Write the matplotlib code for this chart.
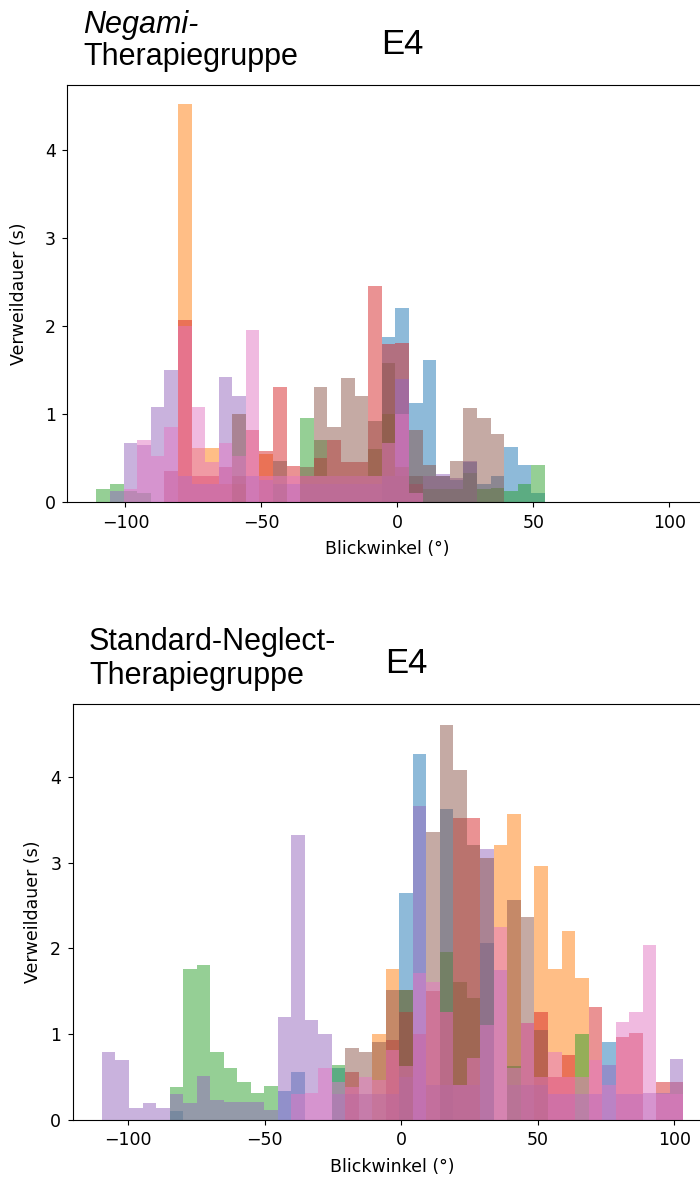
import numpy as np
import matplotlib
matplotlib.use("Agg")
import matplotlib.pyplot as plt

# bin edges (degrees) of the two panels
edges_top = np.linspace(-110.7, 54.3, 34)
edges_bot = np.linspace(-109.6, 103.2, 44)

# dwell time per angle bin (s), one list per trial, top panel (Negami)
top_blue = [0, 0, 0, 0, 0, 0, 0, 0, 0, 0, 0, 0, 0, 0, 0, 0, 0, 0, 0, 0, 0,
            1.87, 2.2, 1.13, 1.61, 0.3, 0.25, 0.45, 0.2, 0.3, 0.62, 0.42, 0.1]
top_orange = [0, 0, 0, 0, 0, 0, 4.52, 0.61, 0.61, 0.2, 0.2, 0, 0.55, 0, 0, 0, 0,
              0, 0, 0, 0, 0, 0, 0, 0, 0, 0, 0, 0, 0, 0, 0, 0]
top_green = [0.15, 0.2, 0.12, 0.1, 0, 0, 0, 0, 0, 0, 0, 0, 0, 0, 0, 0.96, 0.7,
             0.3, 0.3, 0.3, 0.6, 1.0, 0.3, 0.3, 0.15, 0.15, 0.15, 0.33, 0.15,
             0.16, 0.12, 0.2, 0.42]
top_red = [0, 0, 0, 0, 0, 0.35, 2.07, 0.3, 0.3, 0.4, 0.3, 0.82, 0.58, 1.31, 0.41,
           0.3, 0.5, 0.7, 0.46, 0.45, 2.46, 1.8, 1.81, 0.2, 0, 0, 0, 0, 0, 0, 0,
           0, 0]
top_purple = [0, 0.13, 0.67, 0.65, 1.08, 1.5, 0.3, 0.2, 0.2, 1.42, 1.2, 0.3, 0.25,
              0.2, 0.2, 0.2, 0.2, 0.2, 0.2, 0.2, 0.2, 0.3, 1.4, 0.3, 0.3, 0.32,
              0.27, 0.47, 0, 0, 0, 0, 0]
top_brown = [0, 0, 0, 0, 0, 0, 0, 0, 0, 0, 1.0, 0, 0, 0.47, 0, 0.4, 1.31, 0.85,
             1.41, 1.2, 0.92, 1.58, 0.4, 0.82, 0.42, 0.3, 0.47, 1.07, 0.96, 0.77,
             0, 0, 0]
top_pink = [0, 0, 0.15, 0.7, 0.52, 0.85, 2.0, 1.08, 0.45, 0.67, 0.52, 1.96, 0.3,
            0.3, 0.3, 0.3, 0.3, 0.3, 0.3, 0.3, 0.3, 0.67, 1.0, 0.1, 0, 0, 0, 0,
            0, 0, 0, 0, 0]

# bottom panel (Standard-Neglect)
bot_blue = [0, 0, 0, 0, 0, 0.1, 0, 0, 0, 0, 0, 0, 0, 0.33, 0.55, 0, 0, 0.6, 0,
            0, 0, 0, 2.64, 4.27, 0, 3.62, 0, 0, 2.06, 0, 0, 0, 0, 0, 0, 0, 0,
            0.91, 0, 0, 0, 0, 0]
bot_orange = [0, 0, 0, 0, 0, 0, 0, 0, 0, 0, 0, 0, 0, 0, 0, 0, 0, 0, 0, 0, 1.0,
              1.76, 0, 0, 0, 0, 0, 0, 0, 3.21, 3.57, 0, 2.96, 1.76, 2.2, 1.65,
              0, 0, 0, 0, 0, 0, 0]
bot_green = [0, 0, 0, 0, 0, 0.38, 1.76, 1.8, 0.79, 0.6, 0.44, 0.31, 0.39, 0, 0,
             0, 0, 0.64, 0, 0, 0, 0, 1.51, 0, 0, 1.96, 1.6, 1.42, 0, 0, 0.62,
             0, 0, 0, 0, 1.0, 0, 0, 0, 0, 0, 0, 0]
bot_red = [0, 0, 0, 0, 0, 0, 0, 0, 0, 0, 0, 0, 0, 0, 0, 0, 0, 0, 0.55, 0, 0,
           0.93, 1.25, 1.0, 1.5, 1.26, 3.52, 3.52, 0, 0, 0, 1.13, 1.25, 0.5,
           0.75, 0, 1.31, 0, 0.96, 1.01, 0, 0.44, 0.44]
bot_purple = [0.79, 0.7, 0.14, 0.19, 0.14, 0.3, 0.19, 0.51, 0.23, 0.2, 0.2, 0.2,
              0.11, 1.2, 3.32, 1.16, 1.0, 0.3, 0.3, 0.3, 0.3, 0.3, 0.5, 3.66,
              0.4, 0.4, 0.4, 0.4, 3.16, 1.75, 0.4, 0.4, 0.4, 0.3, 0.3, 0.3, 0.3,
              0.64, 0.3, 0.3, 0.31, 0.31, 0.71]
bot_brown = [0, 0, 0, 0, 0, 0, 0, 0, 0, 0, 0, 0, 0, 0, 0, 0, 0, 0, 0.84, 0.79,
             0.9, 1.51, 1.51, 0, 3.36, 4.61, 4.08, 3.21, 3.05, 0, 2.56, 2.37,
             1.05, 0, 0, 0, 0, 0, 0, 0, 0, 0, 0]
bot_pink = [0, 0, 0, 0, 0, 0, 0, 0, 0, 0, 0, 0, 0, 0, 0.3, 0.31, 0.6, 0.44,
            0.38, 0.5, 0.46, 0.81, 0.62, 1.71, 1.6, 1.26, 0.4, 0.72, 1.1, 2.25,
            0.6, 1.13, 0.5, 0.79, 0.5, 0.5, 0.7, 0.4, 1.14, 1.25, 2.04, 0.3,
            0.3]

colors = ["tab:blue", "tab:orange", "tab:green", "tab:red",
          "tab:purple", "tab:brown", "tab:pink"]

top_series = [top_blue, top_orange, top_green, top_red, top_purple, top_brown, top_pink]
bot_series = [bot_blue, bot_orange, bot_green, bot_red, bot_purple, bot_brown, bot_pink]

fig = plt.figure(figsize=(7.0, 11.82), dpi=100)
ax1 = fig.add_axes([0.0964, 0.5753, 0.915, 0.3528])
ax2 = fig.add_axes([0.1043, 0.0528, 0.913, 0.3516])


def draw(ax, edges, series, xlim, ylabelpad):
    centers = (edges[:-1] + edges[1:]) / 2
    for vals, c in zip(series, colors):
        ax.hist(centers, bins=edges, weights=vals, color=c, alpha=0.5)
    ax.set_xlim(*xlim)
    ax.set_xticks([-100, -50, 0, 50, 100])
    ax.set_yticks([0, 1, 2, 3, 4])
    ax.tick_params(labelsize=12.5, pad=5)
    ax.set_xlabel("Blickwinkel (°)", fontsize=12.5, labelpad=6)
    ax.set_ylabel("Verweildauer (s)", fontsize=12.5, labelpad=ylabelpad)


draw(ax1, edges_top, top_series, (-121.3, 114.2), 12)
draw(ax2, edges_bot, bot_series, (-120.2, 113.8), 6)
ax1.set_ylim(0, 4.74)
ax2.set_ylim(0, 4.85)

H = 1182.0
tfont = dict(family="Liberation Sans", fontsize=22, va="baseline", ha="left")
fig.text(83 / 700, 1 - 33 / H, "Negami-", style="italic", **tfont)
fig.text(83 / 700, 1 - 65 / H, "Therapiegruppe", **tfont)
fig.text(381 / 700, 1 - 54 / H, "E4", family="Liberation Sans", fontsize=25,
         va="baseline", ha="left")
fig.text(89 / 700, 1 - 650 / H, "Standard-Neglect-", **tfont)
fig.text(89 / 700, 1 - 684 / H, "Therapiegruppe", **tfont)
fig.text(385 / 700, 1 - 673 / H, "E4", family="Liberation Sans", fontsize=25,
         va="baseline", ha="left")

fig.savefig("out.png", dpi=100)
